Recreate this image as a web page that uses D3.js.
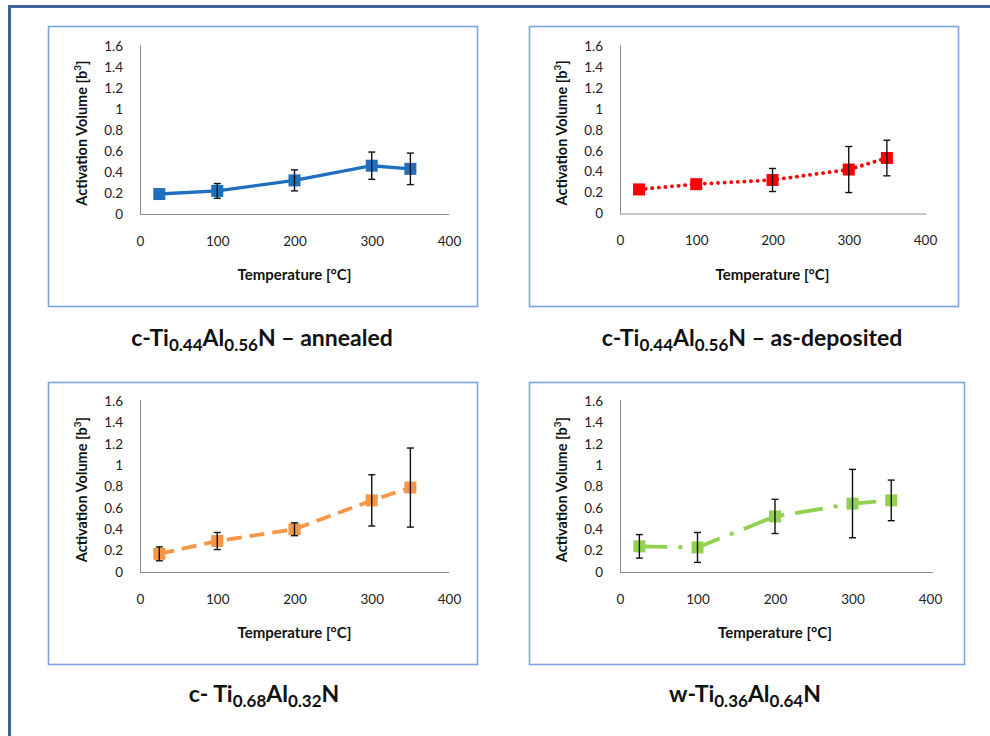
<!DOCTYPE html>
<html>
<head>
<meta charset="utf-8">
<script src="https://cdn.jsdelivr.net/npm/d3@7"></script>
<style>
  html, body { margin: 0; padding: 0; background: #fff; }
  svg { display: block; }
</style>
</head>
<body>
<svg id="chart" width="990" height="736"></svg>
<script>
// Test temperatures [°C]
const temperatures = [25, 100, 200, 300, 350];

// Activation volume [b³] and error bar half-widths for each coating
const annealedVolume   = [0.19, 0.22, 0.32, 0.46, 0.43];
const annealedError    = [0, 0.07, 0.10, 0.13, 0.15];
const depositedVolume  = [0.23, 0.28, 0.32, 0.42, 0.53];
const depositedError   = [0, 0, 0.11, 0.22, 0.17];
const ti68Volume       = [0.17, 0.29, 0.40, 0.67, 0.79];
const ti68Error        = [0.065, 0.08, 0.06, 0.24, 0.37];
const wurtziteVolume   = [0.24, 0.23, 0.52, 0.64, 0.67];
const wurtziteError    = [0.11, 0.14, 0.16, 0.32, 0.19];

// Axis ticks
const xTickValues = [0, 100, 200, 300, 400];
const yTickValues = [0, 0.2, 0.4, 0.6, 0.8, 1, 1.2, 1.4, 1.6];
const xTickLabels = ["0", "100", "200", "300", "400"];
const yTickLabels = ["0", "0.2", "0.4", "0.6", "0.8", "1", "1.2", "1.4", "1.6"];

// Panel captions: [text, isSubscript]
const annealedTitle  = [["c-Ti", false], ["0.44", true], ["Al", false], ["0.56", true], ["N \u2013 annealed", false]];
const depositedTitle = [["c-Ti", false], ["0.44", true], ["Al", false], ["0.56", true], ["N  \u2013 as-deposited", false]];
const ti68Title      = [["c- Ti", false], ["0.68", true], ["Al", false], ["0.32", true], ["N", false]];
const wurtziteTitle  = [["w-Ti", false], ["0.36", true], ["Al", false], ["0.64", true], ["N", false]];

const FONT = "Lato, 'Open Sans', 'DejaVu Sans', sans-serif";

const panels = [
  { box: [48, 26, 429, 280], plot: { x0: 140, x1: 449, yTop: 46, yBot: 214 }, axisEnd: 449,
    values: annealedVolume, errors: annealedError, color: "#1f6fbf",
    dash: null, cap: "butt", width: 3.4, marker: 12, title: annealedTitle, titleX: 262, titleY: 346 },
  { box: [529, 26, 429, 280], plot: { x0: 620, x1: 925, yTop: 46, yBot: 213.5 }, axisEnd: 926,
    values: depositedVolume, errors: depositedError, color: "#ff0000",
    dash: "0.1 6.5", cap: "round", width: 3.8, marker: 12, title: depositedTitle, titleX: 752, titleY: 346 },
  { box: [48, 382, 429, 282], plot: { x0: 140, x1: 449, yTop: 401, yBot: 572 }, axisEnd: 449,
    values: ti68Volume, errors: ti68Error, color: "#f79646",
    dash: "15 8", cap: "butt", width: 3.8, marker: 12, title: ti68Title, titleX: 264, titleY: 702 },
  { box: [529, 382, 435, 282], plot: { x0: 620, x1: 930, yTop: 401, yBot: 572 }, axisEnd: 933,
    values: wurtziteVolume, errors: wurtziteError, color: "#92d050",
    dash: "28 11 4 11", cap: "butt", width: 3.8, marker: 12, title: wurtziteTitle, titleX: 745, titleY: 702 }
];

const svg = d3.select("#chart");

// Outer frame (top and left edges)
svg.append("path")
  .attr("d", "M9.5,736 L9.5,6.5 L990,6.5")
  .attr("fill", "none")
  .attr("stroke", "#3e6498")
  .attr("stroke-width", 3);

panels.forEach(p => {
  const g = svg.append("g");

  // Chart area border
  g.append("rect")
    .attr("x", p.box[0] + 0.5).attr("y", p.box[1] + 0.5)
    .attr("width", p.box[2]).attr("height", p.box[3])
    .attr("fill", "#fff")
    .attr("stroke", "#7ea6da")
    .attr("stroke-width", 1.6);

  const x = d3.scaleLinear().domain([0, 400]).range([p.plot.x0, p.plot.x1]);
  const y = d3.scaleLinear().domain([0, 1.6]).range([p.plot.yBot, p.plot.yTop]);

  // Y axis
  const yAxis = d3.axisLeft(y)
    .tickValues(yTickValues)
    .tickSize(0)
    .tickPadding(17)
    .tickFormat((d, i) => yTickLabels[i]);
  const yg = g.append("g").attr("transform", `translate(${p.plot.x0},0)`).call(yAxis);
  yg.select(".domain").remove();
  yg.selectAll("text").attr("font-family", FONT).attr("font-size", 13.5).attr("fill", "#222");
  g.append("line")
    .attr("x1", p.plot.x0 + 0.5).attr("x2", p.plot.x0 + 0.5)
    .attr("y1", p.plot.yTop - 1).attr("y2", p.plot.yBot)
    .attr("stroke", "#8c8c8c").attr("stroke-width", 1);

  // X axis
  const xAxis = d3.axisBottom(x)
    .tickValues(xTickValues)
    .tickSize(0)
    .tickPadding(22)
    .tickFormat((d, i) => xTickLabels[i]);
  const xg = g.append("g").attr("transform", `translate(0,${p.plot.yBot})`).call(xAxis);
  xg.select(".domain").remove();
  xg.selectAll("text").attr("font-family", FONT).attr("font-size", 13.5).attr("fill", "#222");
  g.append("line")
    .attr("x1", p.plot.x0).attr("x2", p.axisEnd)
    .attr("y1", p.plot.yBot + 0.5).attr("y2", p.plot.yBot + 0.5)
    .attr("stroke", "#8c8c8c").attr("stroke-width", 1);

  // Axis titles
  g.append("text")
    .attr("x", (p.plot.x0 + p.plot.x1) / 2)
    .attr("y", p.plot.yBot + 66)
    .attr("text-anchor", "middle")
    .attr("font-family", FONT).attr("font-weight", "bold").attr("font-size", 15)
    .attr("fill", "#111")
    .text("Temperature [\u00b0C]");

  const yt = g.append("text")
    .attr("transform", `translate(${p.plot.x0 - 53},${(p.plot.yTop + p.plot.yBot) / 2 + 3}) rotate(-90)`)
    .attr("text-anchor", "middle")
    .attr("font-family", FONT).attr("font-weight", "bold").attr("font-size", 14.5)
    .attr("fill", "#111");
  yt.append("tspan").text("Activation Volume [b");
  yt.append("tspan").attr("dy", -6).attr("font-size", 10).text("3");
  yt.append("tspan").attr("dy", 6).text("]");

  const pts = temperatures.map((t, i) => ({ t, v: p.values[i], e: p.errors[i] }));

  // Connecting line
  g.append("path")
    .datum(pts)
    .attr("d", d3.line().x(d => x(d.t)).y(d => y(d.v)))
    .attr("fill", "none")
    .attr("stroke", p.color)
    .attr("stroke-width", p.width)
    .attr("stroke-linecap", p.cap)
    .attr("stroke-dasharray", p.dash);

  // Markers
  g.selectAll("rect.marker")
    .data(pts)
    .join("rect")
    .attr("class", "marker")
    .attr("x", d => x(d.t) - p.marker / 2)
    .attr("y", d => y(d.v) - p.marker / 2)
    .attr("width", p.marker).attr("height", p.marker)
    .attr("fill", p.color);

  // Error bars (only where a spread was measured)
  const eb = g.selectAll("g.err").data(pts.filter(d => d.e > 0)).join("g").attr("class", "err")
    .attr("stroke", "#111").attr("stroke-width", 1.4);
  eb.append("line")
    .attr("x1", d => x(d.t)).attr("x2", d => x(d.t))
    .attr("y1", d => y(d.v + d.e)).attr("y2", d => y(d.v - d.e));
  eb.append("line")
    .attr("x1", d => x(d.t) - 3.5).attr("x2", d => x(d.t) + 3.5)
    .attr("y1", d => y(d.v + d.e)).attr("y2", d => y(d.v + d.e));
  eb.append("line")
    .attr("x1", d => x(d.t) - 3.5).attr("x2", d => x(d.t) + 3.5)
    .attr("y1", d => y(d.v - d.e)).attr("y2", d => y(d.v - d.e));

  // Caption below the chart
  const tt = svg.append("text")
    .attr("x", p.titleX).attr("y", p.titleY)
    .attr("text-anchor", "middle")
    .attr("font-family", FONT).attr("font-weight", "bold").attr("font-size", 23)
    .attr("fill", "#111");
  let shifted = false;
  p.title.forEach(([s, sub]) => {
    const ts = tt.append("tspan").text(s);
    if (sub && !shifted) { ts.attr("dy", 5).attr("font-size", 17); shifted = true; }
    else if (sub) { ts.attr("font-size", 17); }
    else if (shifted) { ts.attr("dy", -5); shifted = false; }
  });
});
</script>
</body>
</html>
